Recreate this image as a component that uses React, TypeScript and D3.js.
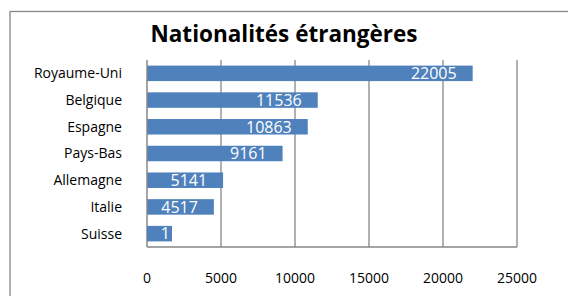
import * as d3 from 'd3'

const categories = ['Royaume-Uni', 'Belgique', 'Espagne', 'Pays-Bas', 'Allemagne', 'Italie', 'Suisse']
const values = [22005, 11536, 10863, 9161, 5141, 4517, 1]
const ticks = [0, 5000, 10000, 15000, 20000, 25000]
const title = 'Nationalités étrangères'

const W = 568, H = 296
const margin = {top: 60, left: 147, right: 51, bottom: 49}
const font = '"Open Sans", sans-serif'
const barColor = '#4F81BD'
const gridColor = '#878787'

export default function App() {
    const x = d3.scaleLinear()
        .domain([0, 25000])
        .range([margin.left, W - margin.right])

    const y = d3.scaleBand()
        .domain(categories)
        .range([margin.top, H - margin.bottom])
        .paddingInner(0.42)
        .paddingOuter(0.21)

    const x0 = x(0)

    return (
        <svg width={W} height={H} style={{position: 'absolute', left: 0, top: 0}} fontFamily={font}>
            <rect x={0} y={0} width={W} height={H} fill="#fff" />
            {/* chart frame, cut by the window on the right and bottom */}
            <rect x={10} y={11.5} width={W} height={H} fill="none" stroke={gridColor} strokeWidth={1.3} />

            <text x={284} y={42} textAnchor="middle" fontSize={22.5} fontWeight="bold" fill="#000">{title}</text>

            {/* gridlines */}
            {ticks.slice(1).map(t => (
                <line key={t} x1={x(t)} x2={x(t)} y1={margin.top} y2={H - margin.bottom} stroke={gridColor} strokeWidth={1.3} />
            ))}

            {/* bars */}
            {categories.map((c, i) => (
                <rect key={c} x={x0} y={y(c)} width={x(values[i]) - x0} height={y.bandwidth()} fill={barColor} />
            ))}

            {/* axes */}
            <line x1={x0} x2={x0} y1={margin.top} y2={H - margin.bottom} stroke={gridColor} strokeWidth={1.5} />
            <line x1={x0} x2={x(25000)} y1={H - margin.bottom} y2={H - margin.bottom} stroke={gridColor} strokeWidth={1.5} />

            {/* category labels */}
            {categories.map(c => (
                <text key={c} x={122} y={y(c)! + y.bandwidth() / 2} dy="0.35em" textAnchor="end" fontSize={14} fill="#000">{c}</text>
            ))}

            {/* tick labels */}
            {ticks.map(t => (
                <text key={t} x={x(t)} y={283} textAnchor="middle" fontSize={14} fill="#000">{t}</text>
            ))}

            {/* value labels, inside end */}
            {categories.map((c, i) => {
                const end = x(values[i])
                const right = Math.max(end - 16, x0 + 23)
                const cy = y(c)! + y.bandwidth() / 2
                return (
                    <g key={c}>
                        {end - 16 < x0 + 23 && (
                            <rect x={x0} y={y(c)} width={right + 2 - x0} height={y.bandwidth()} fill={barColor} />
                        )}
                        <text x={right} y={cy} dy="0.36em" textAnchor="end" fontSize={16} fill="#fff">{values[i]}</text>
                    </g>
                )
            })}
        </svg>
    )
}
